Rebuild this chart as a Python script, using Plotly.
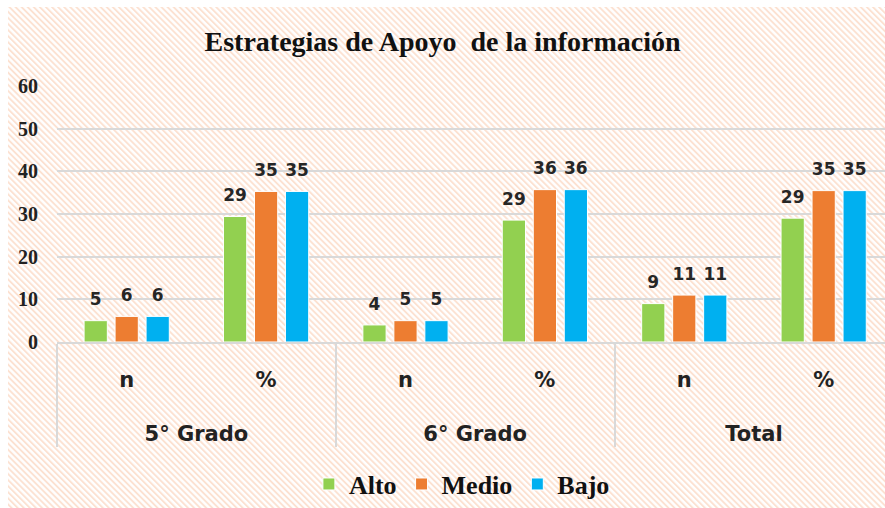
import plotly.graph_objects as go
import urllib.parse

# ---- data ----
groups = ["5° Grado", "5° Grado", "6° Grado", "6° Grado", "Total", "Total"]
subcats = ["n", "%", "n", "%", "n", "%"]
alto = [5, 29.41, 4, 28.57, 9, 29.03]
medio = [6, 35.29, 5, 35.71, 11, 35.48]
bajo = [6, 35.29, 5, 35.71, 11, 35.48]
series_names = ["Alto", "Medio", "Bajo"]
series_colors = ["#92d050", "#ed7d31", "#00b0f0"]
y_ticks = [0, 10, 20, 30, 40, 50, 60]
title_text = "Estrategias de Apoyo \u00a0de la información"

# spacer line under the first-level labels so the second level sits lower
spacer = "<br><span style='font-size:60px'>\u00a0</span>"
subcats_shown = [s + spacer for s in subcats]

# ---- hatched background as inline svg ----
svg = (
    "<svg xmlns='http://www.w3.org/2000/svg' width='877' height='501'>"
    "<defs><pattern id='p' width='4.3' height='10' patternUnits='userSpaceOnUse' "
    "patternTransform='rotate(-45)'>"
    "<rect width='4.3' height='10' fill='white'/>"
    "<line x1='1' y1='0' x2='1' y2='10' stroke='#fce0cf' stroke-width='1.8'/>"
    "</pattern></defs>"
    "<rect width='877' height='501' fill='url(#p)'/></svg>"
)
bg_src = "data:image/svg+xml;charset=utf-8," + urllib.parse.quote(svg)

serif = "Liberation Serif"
sans = "DejaVu Sans"

fig = go.Figure()
for name, vals, col in zip(series_names, [alto, medio, bajo], series_colors):
    fig.add_trace(go.Bar(
        name=name,
        x=[groups, subcats_shown],
        y=vals,
        marker=dict(color=col, line=dict(color="white", width=1)),
        texttemplate="<span style='font-size:17px'>%{y:.0f}</span><br>\u00a0",
        textposition="outside",
        textfont=dict(family=sans, size=8, color="#262626", weight=700),
        constraintext="none",
        cliponaxis=False,
    ))

fig.update_layout(
    width=885, height=508,
    margin=dict(l=57, r=0, t=86, b=166),
    paper_bgcolor="white",
    plot_bgcolor="rgba(0,0,0,0)",
    barmode="group",
    bargap=0.333,
    bargroupgap=0.25,
    title=dict(text=title_text, x=0.5, xanchor="center", y=0.919, yanchor="middle",
               font=dict(family=serif, size=28, color="#111", weight=700)),
    legend=dict(orientation="h", x=0.489, xanchor="center", y=-0.555, yanchor="middle",
                font=dict(family=serif, size=26, color="#111", weight=700),
                bgcolor="rgba(0,0,0,0)"),
    showlegend=True,
    images=[dict(source=bg_src, xref="paper", yref="paper",
                 x=(8 - 57) / 828, y=(342 - 7) / 256,
                 sizex=877 / 828, sizey=501 / 256,
                 xanchor="left", yanchor="top", sizing="stretch", layer="below")],
)
fig.update_yaxes(range=[0, 60], tickvals=y_ticks, showgrid=True, gridcolor="#d9d9d9",
                 gridwidth=1.5, zeroline=False, showline=False, ticks="",
                 ticklabelstandoff=18,
                 tickfont=dict(family=serif, size=20, color="#222", weight=700))
fig.update_xaxes(range=[-0.5, 5.44], showline=True, linecolor="#d9d9d9", linewidth=1.5,
                 showdividers=True, dividercolor="#d9d9d9", dividerwidth=1.5,
                 ticks="", ticklabelstandoff=18,
                 tickfont=dict(family=sans, size=21, color="#222", weight=700))

fig.write_html("out.html")
